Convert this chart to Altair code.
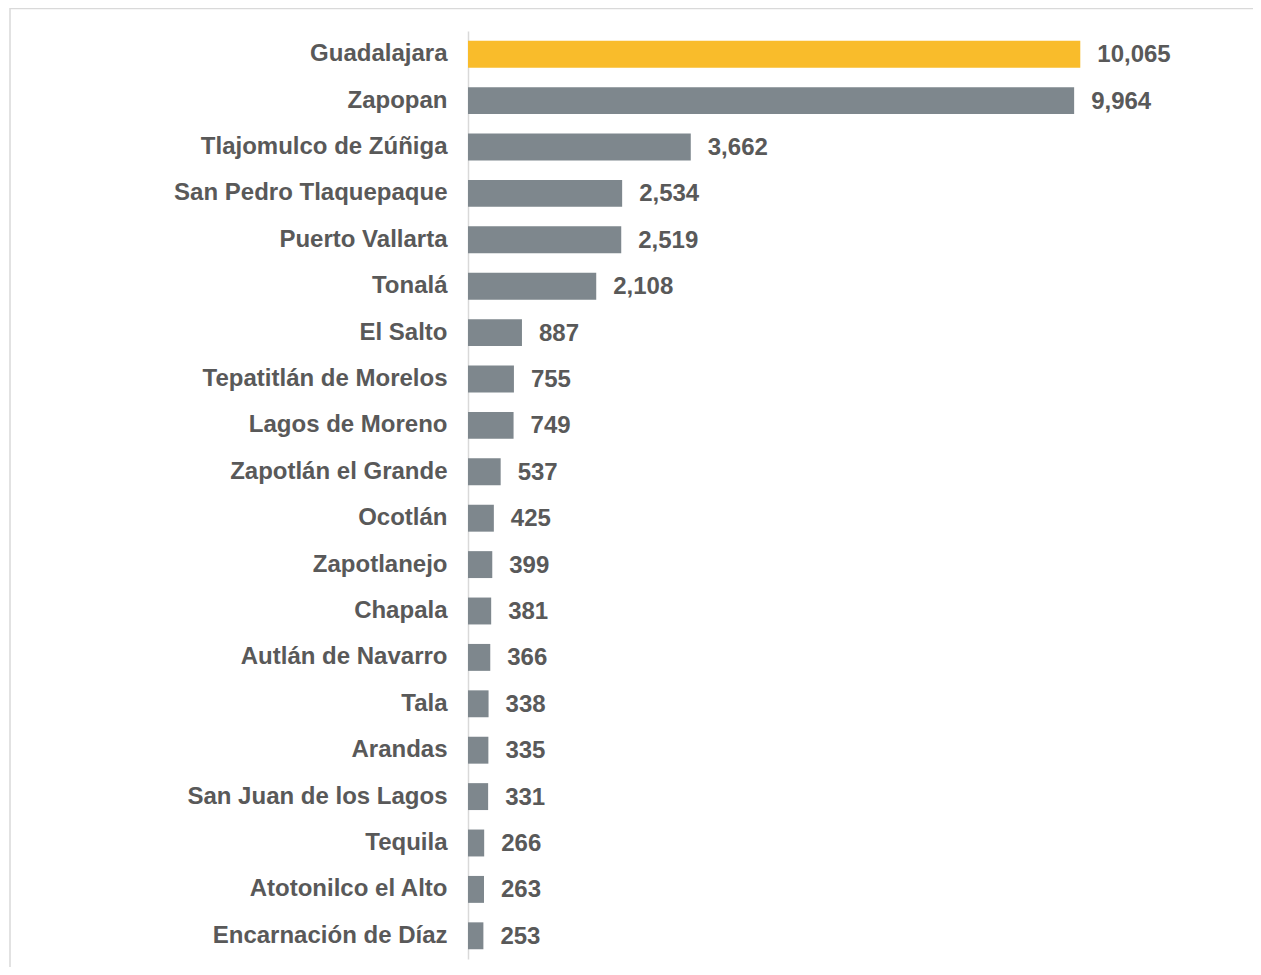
import altair as alt
import pandas as pd

municipios = [
    "Guadalajara", "Zapopan", "Tlajomulco de Zúñiga", "San Pedro Tlaquepaque",
    "Puerto Vallarta", "Tonalá", "El Salto", "Tepatitlán de Morelos",
    "Lagos de Moreno", "Zapotlán el Grande", "Ocotlán", "Zapotlanejo",
    "Chapala", "Autlán de Navarro", "Tala", "Arandas", "San Juan de los Lagos",
    "Tequila", "Atotonilco el Alto", "Encarnación de Díaz",
]
valores = [10065, 9964, 3662, 2534, 2519, 2108, 887, 755, 749, 537,
           425, 399, 381, 366, 338, 335, 331, 266, 263, 253]

df = pd.DataFrame({"municipio": municipios, "valor": valores})

FONT = "Liberation Sans"
TEXT_COLOR = "#595959"

y_enc = alt.Y(
    "municipio:N",
    sort=municipios,
    scale=alt.Scale(paddingInner=0.42, paddingOuter=0.21),
    axis=alt.Axis(
        title=None, ticks=False, grid=False, domainColor="#d9d9d9",
        domainWidth=1.5, labelFont=FONT, labelFontSize=24,
        labelFontWeight="bold", labelColor=TEXT_COLOR, labelPadding=21,
        labelLimit=400,
    ),
)
x_enc = alt.X("valor:Q", scale=alt.Scale(domain=[0, 12000], nice=False), axis=None)

base = alt.Chart(df)

bars = base.mark_bar().encode(
    x=x_enc,
    y=y_enc,
    color=alt.condition(
        alt.datum.municipio == "Guadalajara",
        alt.value("#F9BC2B"),
        alt.value("#7E878D"),
    ),
)

labels = base.mark_text(
    align="left", baseline="middle", dx=17, dy=1, font=FONT, fontSize=24,
    fontWeight="bold", color=TEXT_COLOR,
).encode(
    x=x_enc,
    y=alt.Y("municipio:N", sort=municipios),
    text=alt.Text("valor:Q", format=","),
)

border = alt.Chart(pd.DataFrame({"a": [0]})).mark_rect(
    fill=None, fillOpacity=0, stroke="#d9d9d9", strokeWidth=1.5,
).encode(
    x=alt.value(-458), x2=alt.value(3000),
    y=alt.value(-22.5), y2=alt.value(3000),
)

chart = alt.layer(border, bars, labels).properties(
    width=730,
    height=928,
    padding={"left": 460, "top": 23, "right": 55, "bottom": 8},
    autosize=alt.AutoSizeParams(type="none"),
).configure_view(stroke=None)

chart.save("out.html", embed_options={"renderer": "svg", "actions": False})
